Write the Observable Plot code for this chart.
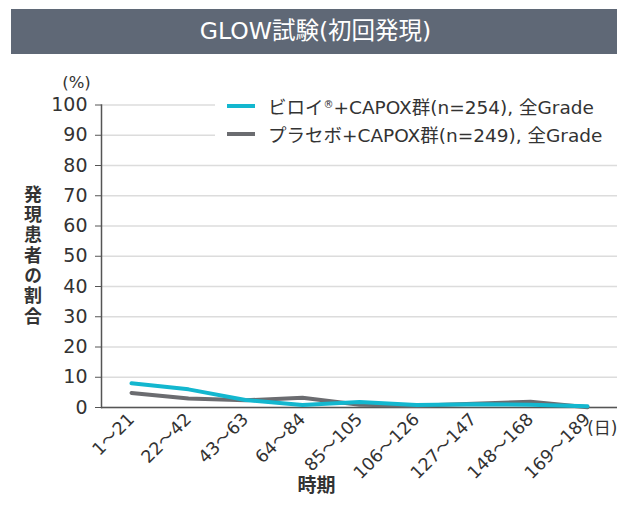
<!DOCTYPE html>
<html>
<head>
<meta charset="utf-8">
<script src="https://cdn.jsdelivr.net/npm/d3@7"></script>
<script src="https://cdn.jsdelivr.net/npm/@observablehq/plot@0.6"></script>
<style>
  body { margin: 0; background: #fff; font-family: "DejaVu Sans", "Noto Sans CJK JP", sans-serif; }
  #wrap { position: relative; width: 617px; height: 522px; overflow: hidden; background: #fff; }
  #title { position: absolute; left: 11px; top: 9px; width: 606px; height: 45px; background: #5f6876;
           color: #fff; font-size: 23.5px; line-height: 45px; text-align: center; padding-left: 3px; box-sizing: border-box; }
  #chart { position: absolute; left: 0; top: 54px; }
  #legend { position: absolute; left: 215px; top: 92px; width: 402px; background: #fff; color: #333; font-size: 18.5px; }
  .row { display: flex; align-items: center; height: 28px; white-space: nowrap; }
  .sw { width: 28px; height: 4px; margin-left: 12px; margin-right: 13px; flex: none; }
  .row sup { font-size: 10px; vertical-align: 6px; }
  #ylabel { position: absolute; left: 22px; top: 185px; writing-mode: vertical-rl; font-family: "Noto Sans CJK JP", sans-serif;
            font-weight: bold; font-size: 18px; letter-spacing: 2.3px; color: #333; line-height: 22px; }
</style>
</head>
<body>
<div id="wrap">
  <div id="title"></div>
  <div id="chart"></div>
  <div id="legend"></div>
  <div id="ylabel"></div>
</div>
<script>
const titleText = "GLOW試験(初回発現)";
const periods = ["1～21", "22～42", "43～63", "64～84", "85～105", "106～126", "127～147", "148～168", "169～189"];
const biroiValues = [8.0, 6.0, 2.5, 0.8, 1.8, 0.8, 1.1, 0.9, 0.4];
const placeboValues = [4.8, 3.0, 2.4, 3.2, 0.9, 0.6, 1.2, 1.9, 0.1];
const seriesNames = ["ビロイ®+CAPOX群(n=254), 全Grade", "プラセボ+CAPOX群(n=249), 全Grade"];
const seriesColors = ["#13b7cf", "#6b6c70"];
const yTicks = [0, 10, 20, 30, 40, 50, 60, 70, 80, 90, 100];
const yUnit = "(%)";
const xUnit = "(日)";
const yLabel = "発現患者の割合";
const xLabel = "時期";

document.getElementById("title").textContent = titleText;
document.getElementById("ylabel").textContent = yLabel;

const data = [];
periods.forEach((p, i) => {
  data.push({period: p, value: placeboValues[i], series: seriesNames[1]});
});
periods.forEach((p, i) => {
  data.push({period: p, value: biroiValues[i], series: seriesNames[0]});
});

const font = '"DejaVu Sans", "Noto Sans CJK JP", sans-serif';

const chart = Plot.plot({
  width: 617,
  height: 468,
  marginLeft: 101,
  marginRight: 0,
  marginTop: 50.5,
  marginBottom: 115,
  style: {fontFamily: font, fontSize: "17px", color: "#333", background: "transparent"},
  x: {type: "point", domain: periods, padding: 0.47, label: null},
  y: {domain: [0, 100], label: null},
  color: {domain: seriesNames, range: seriesColors},
  marks: [
    Plot.gridY(yTicks, {stroke: "#dcdcdc", strokeOpacity: 1, strokeWidth: 1.5}),
    Plot.axisY(yTicks, {tickSize: 6, tickPadding: 8, fontSize: 19, stroke: "#555", label: null}),
    Plot.axisX({tickSize: 0, tickRotate: -45, tickPadding: 9, fontSize: 17.5, label: null}),
    Plot.frame({anchor: "left", stroke: "#555", strokeWidth: 1.5}),
    Plot.ruleY([0], {stroke: "#555", strokeWidth: 1.5}),
    Plot.line(data, {x: "period", y: "value", z: "series", stroke: "series", strokeWidth: 4, strokeLinejoin: "round"}),
    Plot.text([yUnit], {frameAnchor: "top-left", dx: -25, dy: -22.5, textAnchor: "middle", lineAnchor: "middle", fontSize: 16.5, fill: "#333"}),
    Plot.text([xUnit], {frameAnchor: "bottom-right", dx: 0, dy: 21, textAnchor: "end", lineAnchor: "middle", fontSize: 17, fill: "#333"}),
    Plot.text([xLabel], {frameAnchor: "bottom", dx: -43, dy: 78, lineAnchor: "middle", fontFamily: '"Noto Sans CJK JP", sans-serif', fontSize: 19, fontWeight: "bold", fill: "#333"})
  ]
});
document.getElementById("chart").appendChild(chart);

const legend = document.getElementById("legend");
seriesNames.forEach((name, i) => {
  const row = document.createElement("div");
  row.className = "row";
  const sw = document.createElement("span");
  sw.className = "sw";
  sw.style.background = seriesColors[i];
  row.appendChild(sw);
  const label = document.createElement("span");
  const parts = name.split("®");
  label.appendChild(document.createTextNode(parts[0]));
  if (parts.length > 1) {
    const sup = document.createElement("sup");
    sup.textContent = "®";
    label.appendChild(sup);
    label.appendChild(document.createTextNode(parts[1]));
  }
  row.appendChild(label);
  legend.appendChild(row);
});
</script>
</body>
</html>
